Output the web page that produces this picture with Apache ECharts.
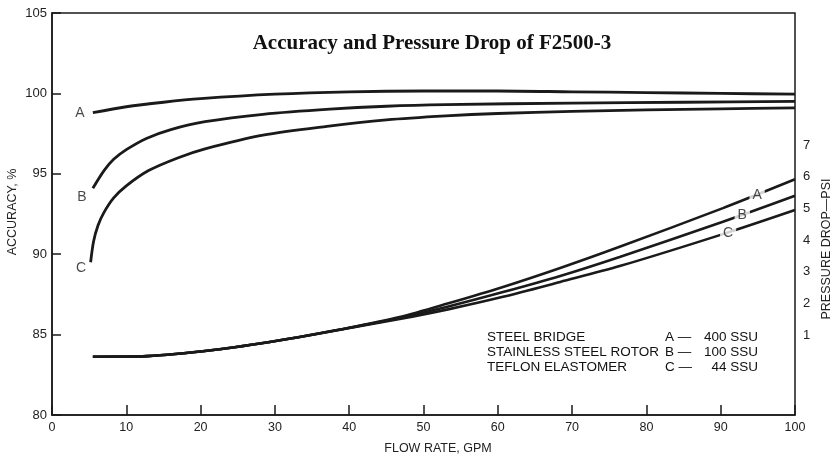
<!DOCTYPE html>
<html><head><meta charset="utf-8">
<script src="https://cdn.jsdelivr.net/npm/echarts@6/dist/echarts.min.js"></script>
<style>html,body{margin:0;padding:0;background:#fff}#c{width:837px;height:456px}</style>
</head><body><div id="c"></div>
<script>
// ---- data ----
const titleText = 'Accuracy and Pressure Drop of F2500-3';
const xTicks = [0,10,20,30,40,50,60,70,80,90,100];
const accTicks = [80,85,90,95,100,105];
const psiTicks = [1,2,3,4,5,6,7];

const accFlowA = [5.5,10,15,20,30,40,50,60,70,80,90,100];
const accA     = [98.8,99.17,99.45,99.67,99.95,100.1,100.15,100.15,100.1,100.05,100.0,99.95];
const accFlowB = [5.5,7,8.3,10,12.7,16,20.6,28.4,37.4,45,53,70,85,100];
const accB     = [94.1,95.2,95.9,96.5,97.2,97.75,98.24,98.7,99.02,99.2,99.3,99.4,99.45,99.5];
const accFlowC = [5.2,5.6,6.2,7,8.3,10,13,17,20.6,28.4,37,45,53,60,70,80,90,100];
const accC     = [89.5,90.8,91.8,92.6,93.5,94.25,95.2,96.0,96.55,97.4,97.95,98.35,98.6,98.75,98.88,98.97,99.04,99.1];

const psiFlow = [5.5,12.8,21.7,30.7,39.7,46.8,53.6,60.7,68.4,76.4,90.3,100];
const psiA    = [0.32,0.34,0.53,0.84,1.22,1.57,2.02,2.52,3.12,3.79,5.01,5.92];
const psiB    = [0.32,0.34,0.53,0.84,1.22,1.54,1.92,2.36,2.87,3.47,4.58,5.40];
const psiC    = [0.32,0.34,0.53,0.84,1.21,1.51,1.83,2.21,2.68,3.18,4.19,4.95];

const curveNames = ['A','B','C'];
const accLabelX = [3.77,4.04,3.9];
const accLabelY = [98.8,93.56,89.14];
const psiLabelX = [94.9,92.9,91.0];
const psiLabelY = [5.42,4.79,4.22];

const legendLeft  = ['STEEL BRIDGE','STAINLESS STEEL ROTOR','TEFLON ELASTOMER'];
const legendMid   = ['A —','B —','C —'];
const legendRight = ['400 SSU','100 SSU','44 SSU'];

// ---- build ----
const zip = (xs, ys) => xs.map((x, i) => [x, ys[i]]);
const INK = '#1a1a1a';
const chart = echarts.init(document.getElementById('c'));

function curve(name, xs, ys, yIdx, w) {
  return { name, type:'line', yAxisIndex:yIdx, data:zip(xs, ys), showSymbol:false,
    smooth:0.3, lineStyle:{color:INK, width:w}, silent:true, z:2 };
}
function labelSeries(xs, ys, yIdx, bg) {
  return { type:'scatter', yAxisIndex:yIdx, symbolSize:0, z:5, silent:true,
    data: xs.map((x,i)=>({name:curveNames[i], value:[x, ys[i]]})),
    label:{show:true, position:'inside', formatter:'{b}', color:INK,
      fontFamily:'Liberation Sans, Arial', fontSize:14,
      backgroundColor: bg ? '#fff' : 'transparent', padding: bg ? [1,3] : 0 } };
}

const nameFont = '12.5px "Liberation Sans", Arial';
const graphics = [
  { type:'text', x:432, y:44, style:{ text:titleText, fill:'#111',
    font:'bold 21px "Liberation Serif", "Times New Roman", serif', textAlign:'center', textVerticalAlign:'middle' } },
  { type:'text', x:438, y:449, style:{ text:'FLOW RATE, GPM', fill:'#222',
    font:nameFont, textAlign:'center', textVerticalAlign:'middle' } },
  { type:'text', x:13, y:212, rotation:Math.PI/2, style:{ text:'ACCURACY, %', fill:'#222',
    font:nameFont, textAlign:'center', textVerticalAlign:'middle' } },
  { type:'text', x:827, y:249, rotation:Math.PI/2, style:{ text:'PRESSURE DROP—PSI', fill:'#222',
    font:nameFont, textAlign:'center', textVerticalAlign:'middle' } }
];
const legY = [337,352,367];
legendLeft.forEach((t,i)=>{
  graphics.push({ type:'text', x:487, y:legY[i], style:{ text:t, fill:'#111',
    font:'13.5px "Liberation Sans", Arial', textAlign:'left', textVerticalAlign:'middle' } });
  graphics.push({ type:'text', x:665, y:legY[i], style:{ text:legendMid[i], fill:'#111',
    font:'13.5px "Liberation Sans", Arial', textAlign:'left', textVerticalAlign:'middle' } });
  graphics.push({ type:'text', x:758, y:legY[i], style:{ text:legendRight[i], fill:'#111',
    font:'13.5px "Liberation Sans", Arial', textAlign:'right', textVerticalAlign:'middle' } });
});

const axisTxt = { color:'#222', fontFamily:'Liberation Sans, Arial' };

chart.setOption({
  animation:false,
  backgroundColor:'#fff',
  grid:{ left:52, right:42, top:13, bottom:41, show:true, borderColor:INK, borderWidth:1.5,
    containLabel:false, outerBoundsMode:'none' },
  xAxis:{ type:'value', min:xTicks[0], max:xTicks[xTicks.length-1], interval:10,
    axisLine:{show:true, onZero:false, lineStyle:{color:INK, width:1.5}},
    axisTick:{show:true, inside:true, length:10, lineStyle:{color:INK, width:1.5}},
    axisLabel:{...axisTxt, fontSize:12.5, margin:6},
    splitLine:{show:false} },
  yAxis:[
    { type:'value', min:accTicks[0], max:accTicks[accTicks.length-1], interval:5, position:'left',
      axisLine:{show:true, onZero:false, lineStyle:{color:INK, width:1.5}},
      axisTick:{show:true, inside:true, length:9, lineStyle:{color:INK, width:1.5}},
      axisLabel:{...axisTxt, fontSize:13, margin:5},
      splitLine:{show:false} },
    { type:'value', min:-1.52, max:11.17, position:'right',
      axisLine:{show:false}, axisTick:{show:false}, splitLine:{show:false},
      axisLabel:{...axisTxt, fontSize:13, margin:8, customValues:psiTicks, formatter:v=>String(Math.round(v))} }
  ],
  series:[
    curve('accA', accFlowA, accA, 0, 2.8),
    curve('accB', accFlowB, accB, 0, 2.8),
    curve('accC', accFlowC, accC, 0, 2.8),
    curve('psiA', psiFlow, psiA, 1, 2.6),
    curve('psiB', psiFlow, psiB, 1, 2.6),
    curve('psiC', psiFlow, psiC, 1, 2.6),
    labelSeries(accLabelX, accLabelY, 0, false),
    labelSeries(psiLabelX, psiLabelY, 1, true)
  ],
  graphic: graphics
});
</script></body></html>
